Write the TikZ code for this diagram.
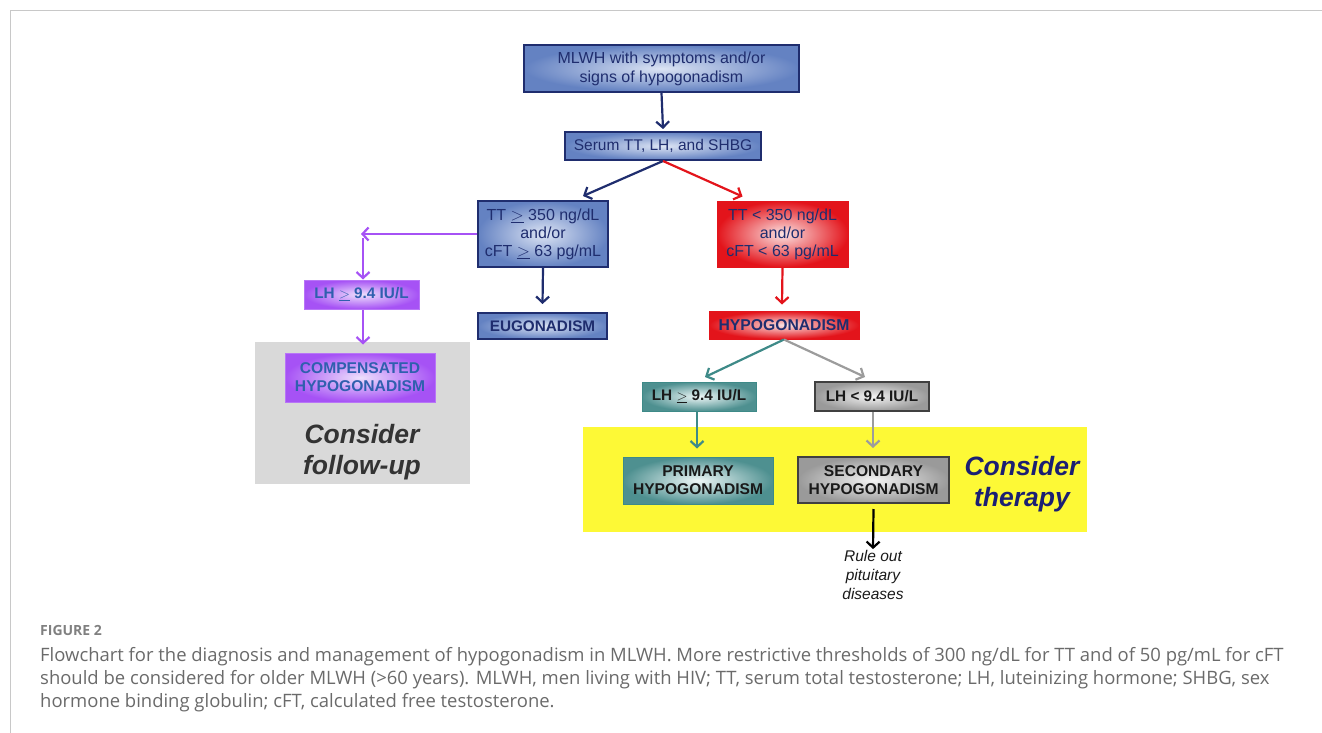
\documentclass[tikz,border=0pt]{standalone}
\usepackage{fontspec}
\setmainfont{Liberation Sans}
\newfontfamily\capfont{Open Sans}
\usetikzlibrary{arrows.meta,calc}
\definecolor{navy}{HTML}{1F2D6E}
\definecolor{blueout}{HTML}{6482C2}
\definecolor{bluein}{HTML}{DCE4F4}
\definecolor{redout}{HTML}{E3141B}
\definecolor{redin}{HTML}{FBE3E3}
\definecolor{purpout}{HTML}{A652F5}
\definecolor{purpin}{HTML}{EEE0FC}
\definecolor{purptext}{HTML}{2F5FAE}
\definecolor{tealout}{HTML}{4E9090}
\definecolor{tealin}{HTML}{EEF7F7}
\definecolor{tealline}{HTML}{3E8A88}
\definecolor{grayout}{HTML}{9A9A9A}
\definecolor{grayin}{HTML}{F4F4F4}
\definecolor{grayline}{HTML}{9C9C9C}
\definecolor{bggray}{HTML}{D9D9D9}
\definecolor{bgyellow}{HTML}{FDF936}
\definecolor{thernavy}{HTML}{1B1F73}
\definecolor{captext}{HTML}{6A6A6A}
\definecolor{framegray}{HTML}{C8C8C8}
\newcommand{\ugeq}{\ensuremath{\underline{>}}}
\begin{document}
\begin{tikzpicture}[x=1pt,y=-1pt,
  box/.style={draw, line width=2pt, inner sep=0pt, align=center, font=\fontsize{16}{19}\selectfont},
  bluebox/.style={box, draw=navy, inner color=bluein, outer color=blueout, text=navy},
  redbox/.style={box, draw=redout, line width=1pt, inner color=redin, outer color=redout, text=navy},
  purpbox/.style={box, draw=purpout!80, line width=1pt, inner color=purpin, outer color=purpout, text=purptext, font=\fontsize{15.6}{18}\selectfont\bfseries},
  tealbox/.style={box, draw=tealline, line width=1pt, inner color=tealin, outer color=tealout, text=black!90, font=\fontsize{15.6}{18}\selectfont\bfseries},
  graybox/.style={box, draw=black!75, line width=2pt, inner color=grayin, outer color=grayout, text=black!90, font=\fontsize{15.6}{18}\selectfont\bfseries},
  arr/.style={line width=2.2pt, -{Straight Barb[length=6pt,width=13pt]}},
  bigital/.style={font=\fontsize{26.5}{31}\selectfont\bfseries\itshape, align=center},
  capline/.style={anchor=base west, inner sep=0pt, font=\capfont\fontsize{18.45}{23}\selectfont, text=captext}
]
\useasboundingbox (0,0) rectangle (1322,733);
% frame
\draw[framegray, line width=1pt] (10,733) -- (10,11) -- (1322,11);
% backgrounds
\fill[bggray] (255,342) rectangle (470,484);
\fill[bgyellow] (583,427) rectangle (1087,532);
% nodes
\node[bluebox, minimum width=275, minimum height=47] (b1) at (661.5,68.5) {MLWH with symptoms and/or\\signs of hypogonadism};
\node[bluebox, minimum width=196, minimum height=28, font=\fontsize{15.5}{18}\selectfont] (b2) at (663,146) {Serum TT, LH, and SHBG};
\node[bluebox, minimum width=130, minimum height=66, font=\fontsize{16}{18}\selectfont] (b3) at (543,234) {TT \ugeq{} 350 ng/dL\\and/or\\cFT \ugeq{} 63 pg/mL};
\node[redbox, minimum width=131, minimum height=66, font=\fontsize{16}{18}\selectfont] (b4) at (782.5,234) {TT {<} 350 ng/dL\\and/or\\cFT {<} 63 pg/mL};
\node[bluebox, minimum width=129, minimum height=26, font=\fontsize{15.3}{17}\selectfont\bfseries] (eug) at (542.5,326) {EUGONADISM};
\node[redbox, minimum width=150, minimum height=28, font=\fontsize{15.7}{17}\selectfont\bfseries] (hypo) at (784,325) {HYPOGONADISM};
\node[purpbox, minimum width=115, minimum height=29, font=\fontsize{15.3}{17}\selectfont\bfseries] (lhp) at (361.5,294.5) {LH \ugeq{} 9.4 IU/L};
\node[purpbox, minimum width=150, minimum height=49] (comp) at (360,377.5) {COMPENSATED\\HYPOGONADISM};
\node[bigital, text=black!80] (fu) at (362,452.5) {Consider\\follow-up};
\node[tealbox, minimum width=114, minimum height=29, font=\fontsize{15.3}{17}\selectfont\bfseries] (lht) at (699,396.5) {LH \ugeq{} 9.4 IU/L};
\node[graybox, minimum width=114, minimum height=29, font=\fontsize{15.3}{17}\selectfont\bfseries] (lhg) at (872,396.5) {LH {<} 9.4 IU/L};
\node[tealbox, minimum width=150, minimum height=47] (prim) at (698,480.5) {PRIMARY\\HYPOGONADISM};
\node[graybox, minimum width=151, minimum height=46] (sec) at (873.5,480) {SECONDARY\\HYPOGONADISM};
\node[bigital, text=thernavy] (ther) at (1022,484.5) {Consider\\therapy};
\node[font=\fontsize{15.5}{19}\selectfont\itshape, align=center, inner sep=0pt, text=black!90] (rule) at (873,575) {Rule out\\pituitary\\diseases};
% helper coordinates
\coordinate (t3) at ($(b3.north)+(40,-4)$);
\coordinate (t4) at ($(b4.north)+(-40,-4)$);
\coordinate (pl) at (361,234);
\coordinate (pv) at (363,238);
\coordinate (tt) at (705,377);
\coordinate (tg) at (865,377);
% connectors
\draw[arr, navy] (b1.south) -- ($(b2.north)+(0,-2)$);
\draw[arr, navy] (b2.south) -- (t3);
\draw[arr, redout] (b2.south) -- (t4);
\draw[arr, navy] (b3.south) -- ($(eug.north)+(0,-8)$);
\draw[arr, redout] (b4.south) -- ($(hypo.north)+(-2,-6)$);
\draw[arr, purpout] (b3.west) -- (pl);
\draw[arr, purpout] (pv) -- ($(lhp.north)+(1.5,0)$);
\draw[arr, purpout] ($(lhp.south)+(1.5,0)$) -- ($(comp.north)+(3,-8)$);
\draw[arr, tealline] (hypo.south) -- (tt);
\draw[arr, grayline] (hypo.south) -- (tg);
\draw[arr, tealline] ($(lht.south)+(-2,0)$) -- ($(prim.north)+(-1,-8)$);
\draw[arr, grayline] ($(lhg.south)+(1,0)$) -- ($(sec.north)+(-0.5,-8)$);
\draw[arr, black] ($(sec.south)+(0,5)$) -- ($(rule.north)+(0,-1)$);
% caption
\node[capline, font=\capfont\bfseries\fontsize{14}{16}\selectfont, text=black!50] (fig) at (40,635) {FIGURE 2};
\node[capline] (cap1) at (40,661) {Flowchart for the diagnosis and management of hypogonadism in MLWH. More restrictive thresholds of 300 ng/dL for TT and of 50 pg/mL for cFT};
\node[capline] (cap2) at (40,684) {should be considered for older MLWH (>60 years). MLWH, men living with HIV; TT, serum total testosterone; LH, luteinizing hormone; SHBG, sex};
\node[capline] (cap3) at (40,707) {hormone binding globulin; cFT, calculated free testosterone.};
\end{tikzpicture}
\end{document}
